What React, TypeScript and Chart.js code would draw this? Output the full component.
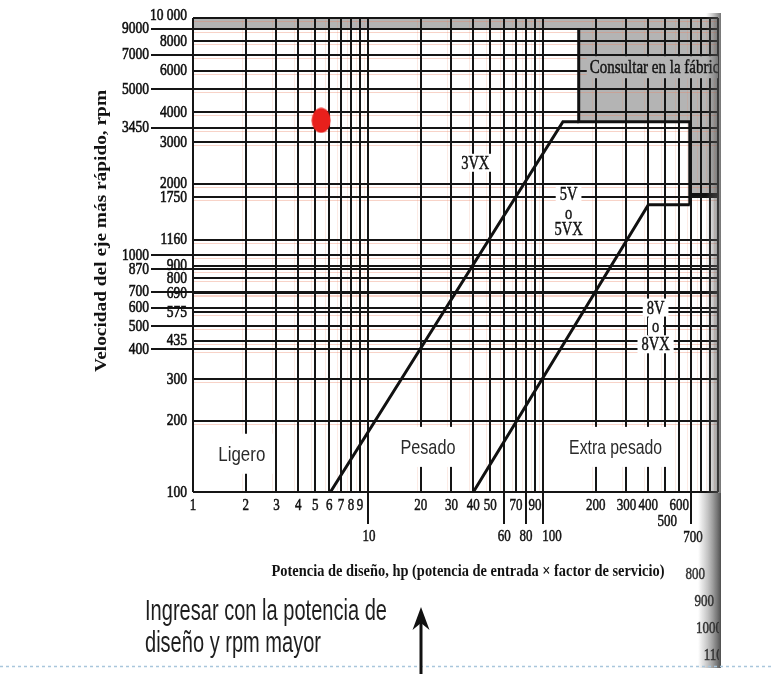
import React, { useEffect, useRef } from 'react';
import { Chart, registerables } from 'chart.js';

Chart.register(...registerables);

const SERIF = '"Liberation Serif", "Times New Roman", serif';
const SANS = '"Liberation Sans", Arial, sans-serif';
const INK = '#121212';

// ---------- axis / grid values ----------
const HP_GRID = [1, 2, 3, 4, 5, 6, 7, 8, 9, 10, 20, 30, 40, 50, 60, 70, 80, 90, 100, 200, 300, 400, 500, 600, 700, 800, 900, 1000];
const RPM_GRID = [10000, 9000, 8000, 7000, 6000, 5000, 4000, 3450, 3000, 2000, 1750, 1160, 1000, 900, 870, 800, 700, 690, 600, 575, 500, 435, 400, 300, 200, 100];
const RPM_LABELS_OUTER = [9000, 7000, 5000, 3450, 1000, 870, 700, 600, 500, 400];
const RPM_LABELS_INNER = [10000, 8000, 6000, 4000, 3000, 2000, 1750, 1160, 900, 800, 690, 575, 435, 300, 200, 100];
const HP_LABELS_MAIN = [1, 2, 3, 4, 5, 6, 7, 8, 9, 20, 30, 40, 50, 70, 90, 200, 300, 400, 600];
const HP_LABELS_LOW = [10, 60, 80, 100];
const HP_LONG_TICKS = [10, 60, 80, 100, 700];
const HP_LABELS_EDGE = [800, 900, 1000, 1100];

// ---------- region boundaries (hp, rpm) ----------
const FACTORY_HP = [1, 160, 160, 690, 690, 1000];
const FACTORY_RPM = [9000, 9000, 3650, 3650, 1800, 1800];
const LINE_3VX_HP = [6.1, 130, 160];
const LINE_3VX_RPM = [100, 3650, 3650];
const LINE_5V_HP = [40, 400, 690];
const LINE_5V_RPM = [100, 1630, 1630];
const LIMIT_A_HP = [160, 160, 690, 690];
const LIMIT_A_RPM = [9000, 3650, 3650, 1630];
const LIMIT_B_HP = [690, 1000];
const LIMIT_B_RPM = [1800, 1800];
const DESIGN_HP = [5.4];
const DESIGN_RPM = [3700];

// ---------- texts ----------
const X_TITLE = 'Potencia de diseño, hp (potencia de entrada × factor de servicio)';
const Y_TITLE = 'Velocidad del eje más rápido, rpm';
const NOTE_LINES = ['Ingresar con la potencia de', 'diseño y rpm mayor'];
const FACTORY_TEXT = 'Consultar en la fábrica';
const FACTORY_TEXT_HP = 185;
const FACTORY_TEXT_RPM = 6200;
const ZONE_TEXT = ['Ligero', 'Pesado', 'Extra pesado'];
const ZONE_HP = [1.9, 22, 260];
const ZONE_RPM = [145, 155, 155];
const BELT_TEXT = ['3VX', '5V', 'o', '5VX', '8V', 'o', '8VX'];
const BELT_HP = [41, 140, 140, 140, 440, 440, 440];
const BELT_RPM = [2450, 1800, 1500, 1290, 600, 500, 420];

const GRAY = '#b4b4b4';

type TOpt = {
  size: number; family?: string; weight?: string; align?: CanvasTextAlign;
  baseline?: CanvasTextBaseline; sx?: number; sy?: number; width?: number;
  color?: string; rot?: number; stroke?: number;
};

function measure(ctx: CanvasRenderingContext2D, s: string, size: number, family = SERIF, weight = 'normal') {
  ctx.save();
  ctx.font = `${weight} ${size}px ${family}`;
  const w = ctx.measureText(s).width;
  ctx.restore();
  return w;
}

function drawText(ctx: CanvasRenderingContext2D, s: string, x: number, y: number, o: TOpt) {
  ctx.save();
  ctx.font = `${o.weight ?? 'normal'} ${o.size}px ${o.family ?? SERIF}`;
  ctx.textAlign = o.align ?? 'center';
  ctx.textBaseline = o.baseline ?? 'middle';
  const m = ctx.measureText(s).width;
  const sx = o.width ? o.width / m : (o.sx ?? 1);
  ctx.translate(x, y);
  if (o.rot) ctx.rotate(o.rot);
  ctx.scale(sx, o.sy ?? 1);
  ctx.fillStyle = o.color ?? INK;
  ctx.fillText(s, 0, 0);
  if (o.stroke) {
    ctx.strokeStyle = o.color ?? INK;
    ctx.lineWidth = o.stroke;
    ctx.strokeText(s, 0, 0);
  }
  ctx.restore();
  return m * sx;
}

const pts = (xs: number[], ys: number[]) => xs.map((x, i) => ({ x, y: ys[i] }));

const beltPlugin = {
  id: 'beltChart',
  afterDatasetDraw(chart: any, args: any) {
    if (args.index !== 0) return;
    const { ctx, chartArea: a, scales } = chart;
    const xs = scales.x, ys = scales.y;
    ctx.save();
    // faint misregistered print lines
    ctx.lineWidth = 1;
    ctx.strokeStyle = 'rgba(236,128,96,0.35)';
    ctx.beginPath();
    RPM_GRID.forEach((v) => {
      const py = Math.round(ys.getPixelForValue(v)) + 3.5;
      if (py < a.bottom) { ctx.moveTo(a.left, py); ctx.lineTo(a.right, py); }
    });
    ctx.stroke();
    ctx.strokeStyle = 'rgba(236,128,96,0.16)';
    ctx.beginPath();
    HP_GRID.forEach((v) => {
      const px = Math.round(xs.getPixelForValue(v)) - 3.5;
      if (px > a.left) { ctx.moveTo(px, a.top); ctx.lineTo(px, a.bottom); }
    });
    ctx.stroke();
    // black grid
    ctx.strokeStyle = '#151515';
    ctx.lineWidth = 2;
    ctx.beginPath();
    RPM_GRID.forEach((v) => {
      const py = Math.round(ys.getPixelForValue(v));
      const x0 = RPM_LABELS_OUTER.includes(v) ? a.left - 42 : a.left;
      ctx.moveTo(x0, py); ctx.lineTo(a.right, py);
    });
    HP_GRID.forEach((v) => {
      const px = Math.round(xs.getPixelForValue(v));
      const y1 = HP_LONG_TICKS.includes(v) ? a.bottom + 32 : a.bottom;
      ctx.moveTo(px, a.top); ctx.lineTo(px, y1);
    });
    ctx.stroke();
    ctx.restore();
  },
  afterDatasetsDraw(chart: any) {
    const { ctx, chartArea: a, scales } = chart;
    const xs = scales.x, ys = scales.y;
    // zone labels (white boxes)
    ZONE_TEXT.forEach((t, i) => {
      const cx = xs.getPixelForValue(ZONE_HP[i]);
      const cy = ys.getPixelForValue(ZONE_RPM[i]);
      const widths = [47, 55, 93];
      ctx.fillStyle = '#fff';
      ctx.fillRect(cx - widths[i] / 2 - 9, cy - 20, widths[i] + 18, 40);
      drawText(ctx, t, cx, cy + 1, { size: 21, family: SANS, width: widths[i], color: '#2a2a2a' });
    });
    // belt section labels
    BELT_TEXT.forEach((t, i) => {
      const cx = xs.getPixelForValue(BELT_HP[i]);
      const cy = ys.getPixelForValue(BELT_RPM[i]);
      const w = measure(ctx, t, 14.5);
      ctx.fillStyle = '#fff';
      ctx.fillRect(cx - w / 2 - 4, cy - 9, w + 8, 18);
      drawText(ctx, t, cx, cy + 1, { size: 14.5, sy: 1.3, stroke: 0.35 });
    });
    // factory text on gray
    const fx = xs.getPixelForValue(FACTORY_TEXT_HP);
    const fy = ys.getPixelForValue(FACTORY_TEXT_RPM);
    ctx.save();
    ctx.beginPath();
    ctx.rect(0, 0, a.right, 674);
    ctx.clip();
    ctx.fillStyle = GRAY;
    ctx.fillRect(fx - 3, fy - 11, a.right - fx + 3, 22);
    drawText(ctx, FACTORY_TEXT, fx, fy + 1, { size: 15, sy: 1.3, align: 'left', stroke: 0.35 });
    ctx.restore();
  },
  afterDraw(chart: any) {
    const { ctx, chartArea: a, scales } = chart;
    const xs = scales.x, ys = scales.y;
    // y tick labels
    RPM_LABELS_INNER.forEach((v) => {
      const py = ys.getPixelForValue(v) + (v === 10000 ? -3 : 0);
      drawText(ctx, v === 10000 ? '10 000' : String(v), a.left - 6, py, { size: 13.5, sy: 1.3, align: 'right', stroke: 0.5 });
    });
    RPM_LABELS_OUTER.forEach((v) => {
      const py = ys.getPixelForValue(v);
      drawText(ctx, String(v), a.left - 44, py, { size: 13.5, sy: 1.3, align: 'right', stroke: 0.5 });
    });
    // x tick labels
    HP_LABELS_MAIN.forEach((v) => {
      drawText(ctx, String(v), xs.getPixelForValue(v), a.bottom + 14, { size: 13, sy: 1.3, stroke: 0.4 });
    });
    HP_LABELS_LOW.forEach((v) => {
      const off = v === 100 ? 9 : v === 10 ? 1 : 0;
      drawText(ctx, String(v), xs.getPixelForValue(v) + off, a.bottom + 45, { size: 13, sy: 1.3, stroke: 0.4 });
    });
    drawText(ctx, '500', xs.getPixelForValue(500) + 2, a.bottom + 30, { size: 13, sy: 1.3, stroke: 0.4 });
    drawText(ctx, '700', xs.getPixelForValue(700) + 2, a.bottom + 46, { size: 13, sy: 1.3, stroke: 0.4 });

    // axis titles
    drawText(ctx, X_TITLE, 468, a.bottom + 80, { size: 14, weight: 'bold', sy: 1.2, width: 393 });
    drawText(ctx, Y_TITLE, 102, 231, { size: 14.5, weight: 'bold', rot: -Math.PI / 2, width: 282, sy: 1.1 });

    // page edge shading
    const g = ctx.createLinearGradient(698, 0, 721, 0);
    g.addColorStop(0, 'rgba(150,150,150,0)');
    g.addColorStop(0.3, 'rgba(150,150,150,0.4)');
    g.addColorStop(0.75, 'rgba(95,95,95,0.75)');
    g.addColorStop(1, 'rgba(60,60,60,0.9)');
    ctx.fillStyle = g;
    ctx.fillRect(698, a.bottom + 1, 23, 668 - a.bottom - 1);
    const g2 = ctx.createLinearGradient(706, 0, 721, 0);
    g2.addColorStop(0, 'rgba(120,120,120,0)');
    g2.addColorStop(1, 'rgba(70,70,70,0.75)');
    ctx.fillStyle = g2;
    ctx.fillRect(706, a.top - 5, 15, a.bottom - a.top + 6);
    ctx.fillStyle = '#fff';
    ctx.fillRect(721, 0, 50, 674);

    // edge labels (partly cut by the page edge)
    ctx.save();
    ctx.beginPath();
    ctx.rect(0, 0, 719, 674);
    ctx.clip();
    HP_LABELS_EDGE.forEach((v, i) => {
      drawText(ctx, String(v), xs.getPixelForValue(v) + 4, a.bottom + 83 + i * 27, { size: 13, sy: 1.3, align: 'right', color: '#333', stroke: 0.4 });
    });
    ctx.restore();

    // note text
    drawText(ctx, NOTE_LINES[0], 145, 620, { size: 29, family: SANS, align: 'left', baseline: 'alphabetic', width: 242, color: '#1e1e1e' });
    drawText(ctx, NOTE_LINES[1], 145, 652, { size: 29, family: SANS, align: 'left', baseline: 'alphabetic', width: 176, color: '#1e1e1e' });

    // dashed separator
    ctx.save();
    ctx.strokeStyle = '#a9c6dc';
    ctx.lineWidth = 1.5;
    ctx.setLineDash([3, 3]);
    ctx.beginPath();
    ctx.moveTo(0, 666.5);
    ctx.lineTo(771, 666.5);
    ctx.stroke();
    ctx.restore();

    // arrow
    ctx.save();
    ctx.strokeStyle = '#111';
    ctx.fillStyle = '#111';
    ctx.lineWidth = 3;
    ctx.beginPath();
    ctx.moveTo(421, 674);
    ctx.lineTo(421, 618);
    ctx.stroke();
    ctx.beginPath();
    ctx.moveTo(421, 607);
    ctx.lineTo(429.5, 630);
    ctx.lineTo(421, 623);
    ctx.lineTo(412.5, 630);
    ctx.closePath();
    ctx.fill();
    ctx.restore();
  },
};

export default function App() {
  const ref = useRef<HTMLCanvasElement>(null);
  useEffect(() => {
    const canvas = ref.current;
    if (!canvas) return;
    const dot = document.createElement('canvas');
    dot.width = 20; dot.height = 26;
    const dg = dot.getContext('2d')!;
    dg.fillStyle = '#e8201c';
    dg.beginPath();
    dg.ellipse(10, 13, 9.5, 12.5, 0, 0, Math.PI * 2);
    dg.fill();

    const line = (label: string, xs: number[], ys: number[]) => ({
      label, data: pts(xs, ys), borderColor: '#111', borderWidth: 3, pointRadius: 0,
      fill: false, tension: 0, borderJoinStyle: 'miter', order: 1,
    });

    const chart = new Chart(canvas, {
      type: 'line',
      data: {
        datasets: [
          {
            label: FACTORY_TEXT, data: pts(FACTORY_HP, FACTORY_RPM), fill: 'end',
            backgroundColor: GRAY, borderWidth: 0, borderColor: 'rgba(0,0,0,0)', pointRadius: 0, tension: 0, order: 10,
          },
          line('3VX', LINE_3VX_HP, LINE_3VX_RPM),
          line('5V / 5VX', LINE_5V_HP, LINE_5V_RPM),
          line('límite A', LIMIT_A_HP, LIMIT_A_RPM),
          line('límite B', LIMIT_B_HP, LIMIT_B_RPM),
          {
            label: 'punto de diseño', data: pts(DESIGN_HP, DESIGN_RPM), showLine: false,
            pointStyle: dot, pointRadius: 10, borderWidth: 0, order: 0,
          },
        ] as any,
      },
      options: {
        animation: false,
        responsive: false,
        maintainAspectRatio: false,
        devicePixelRatio: 1,
        layout: { padding: { left: 193, right: 53, top: 18, bottom: 182 } },
        scales: {
          x: { type: 'logarithmic', min: 1, max: 1000, display: false },
          y: { type: 'logarithmic', min: 100, max: 10000, display: false },
        },
        plugins: { legend: { display: false }, tooltip: { enabled: false } },
        events: [],
      } as any,
      plugins: [beltPlugin as any],
    });
    return () => chart.destroy();
  }, []);
  return (
    <div style={{ position: 'absolute', left: 0, top: 0, width: 771, height: 674, background: '#fff' }}>
      <canvas ref={ref} width={771} height={674} style={{ display: 'block', width: 771, height: 674 }} />
    </div>
  );
}
